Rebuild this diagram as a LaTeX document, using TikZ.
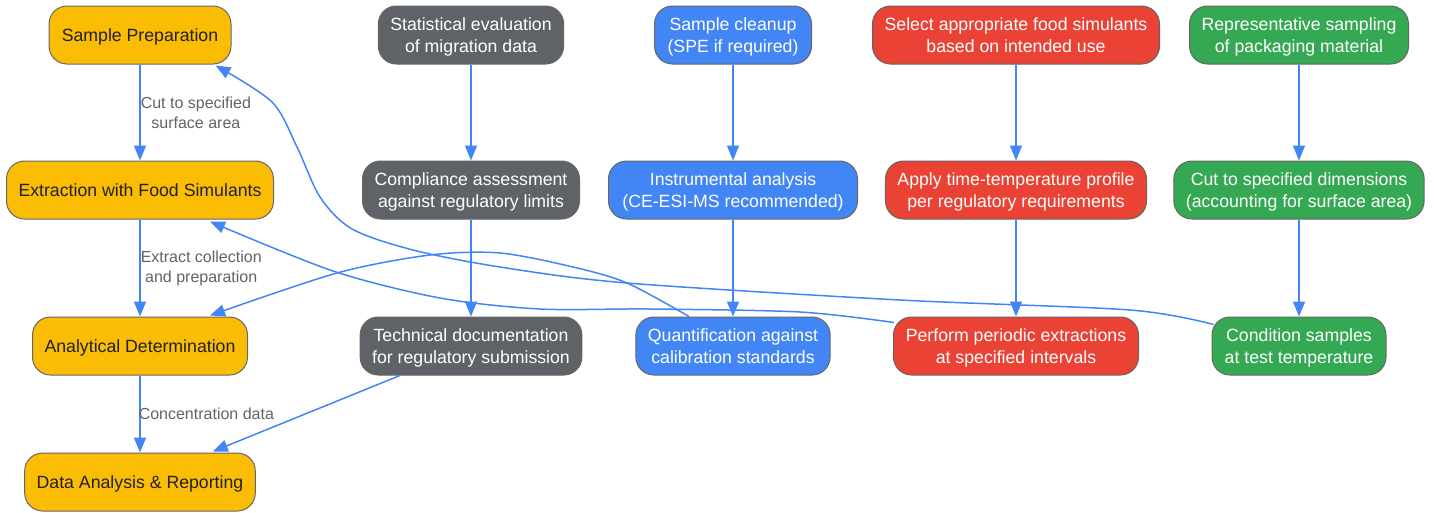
\documentclass[tikz,border=0pt]{standalone}
\usepackage{fontspec}
\setmainfont{Liberation Sans}
\usetikzlibrary{arrows.meta,calc}
\definecolor{cyel}{HTML}{FBBC04}
\definecolor{cgry}{HTML}{5F6368}
\definecolor{cblu}{HTML}{4285F4}
\definecolor{cred}{HTML}{EA4335}
\definecolor{cgrn}{HTML}{34A853}
\definecolor{edgec}{HTML}{4285F4}
\definecolor{bord}{HTML}{666666}
\definecolor{lblc}{HTML}{5F6368}
\definecolor{darktext}{HTML}{202124}
\newcommand\lnstrut{\rule[-4.9pt]{0pt}{22pt}}
\begin{document}
\begin{tikzpicture}[x=1pt,y=-1pt,
 box/.style={draw=bord, line width=1pt, rounded corners=18pt, minimum height=58pt, inner xsep=12pt, inner ysep=4pt, align=center, font=\fontsize{17.7}{22}\selectfont},
 nyel/.style={box, fill=cyel, text=darktext},
 ngry/.style={box, fill=cgry, text=white},
 nblu/.style={box, fill=cblu, text=white},
 nred/.style={box, fill=cred, text=white},
 ngrn/.style={box, fill=cgrn, text=white},
 conn/.style={draw=edgec, line width=1.5pt, -{Triangle[width=12pt,length=15pt]}},
 lbl/.style={text=lblc, font=\fontsize{16}{20}\selectfont, align=center, inner sep=0pt, anchor=west}
]
\useasboundingbox (0,0) rectangle (1434,512);

% column 1
\node[nyel, minimum width=182pt] (sp) at (140,35) {\lnstrut Sample Preparation};
\node[nyel, minimum width=267pt] (ext) at (140,190) {\lnstrut Extraction with Food Simulants};
\node[nyel, minimum width=215pt] (ana) at (140,346) {\lnstrut Analytical Determination};
\node[nyel, minimum width=230pt] (data) at (140,482) {\lnstrut Data Analysis \& Reporting};
% column 2
\node[ngry, minimum width=185pt] (stat) at (471,35) {\lnstrut Statistical evaluation\\\lnstrut of migration data};
\node[ngry, minimum width=217pt] (comp) at (471,190) {\lnstrut Compliance assessment\\\lnstrut against regulatory limits};
\node[ngry, minimum width=221pt] (tech) at (471,346) {\lnstrut Technical documentation\\\lnstrut for regulatory submission};
% column 3
\node[nblu, minimum width=157pt] (clean) at (733,35) {\lnstrut Sample cleanup\\\lnstrut (SPE if required)};
\node[nblu, minimum width=249pt] (instr) at (733,190) {\lnstrut Instrumental analysis\\\lnstrut (CE-ESI-MS recommended)};
\node[nblu, minimum width=193pt] (quant) at (733,346) {\lnstrut Quantification against\\\lnstrut calibration standards};
% column 4
\node[nred, minimum width=287pt] (sel) at (1016,35) {\lnstrut Select appropriate food simulants\\\lnstrut based on intended use};
\node[nred, minimum width=260pt] (apply) at (1016,190) {\lnstrut Apply time-temperature profile\\\lnstrut per regulatory requirements};
\node[nred, minimum width=245pt] (perf) at (1016,346) {\lnstrut Perform periodic extractions\\\lnstrut at specified intervals};
% column 5
\node[ngrn, minimum width=219pt] (repr) at (1299,35) {\lnstrut Representative sampling\\\lnstrut of packaging material};
\node[ngrn, minimum width=249pt] (cut) at (1299,190) {\lnstrut Cut to specified dimensions\\\lnstrut (accounting for surface area)};
\node[ngrn, minimum width=174pt] (cond) at (1299,346) {\lnstrut Condition samples\\\lnstrut at test temperature};

% vertical connectors
\draw[conn] (sp) -- node[lbl, midway]{Cut to specified\\surface area} (ext);
\draw[conn] (ext) -- node[lbl, midway]{Extract collection\\and preparation} (ana);
\draw[conn] (ana) -- node[lbl, midway, xshift=-2pt]{Concentration data} (data);
\draw[conn] (stat) -- (comp);
\draw[conn] (comp) -- (tech);
\draw[conn] (clean) -- (instr);
\draw[conn] (instr) -- (quant);
\draw[conn] (sel) -- (apply);
\draw[conn] (apply) -- (perf);
\draw[conn] (repr) -- (cut);
\draw[conn] (cut) -- (cond);

% end points of curved connectors
\coordinate (a0) at ($(cond.north west)+(2,8)$);
\coordinate (a1) at ($(sp.south east)+(-16,1)$);
\coordinate (c0) at ($(perf.north west)+(1,6)$);
\coordinate (c1) at ($(ext.south east)+(-64,2)$);
\coordinate (b0) at ($(quant.north)+(-44,0)$);
\coordinate (b1) at ($(ana.north east)+(-38,-1)$);
\coordinate (t0) at ($(tech.south)+(-71,0)$);
\coordinate (t1) at ($(data.north east)+(-43,-1)$);

% curved connectors
\draw[conn] plot[smooth, tension=0.5] coordinates {(a0) (1130,310) (900,300) (627,283) (500,267) (413,250) (352,229) (320,197) (297,147) (272,102) (a1)};
\draw[conn] plot[smooth, tension=0.5] coordinates {(c0) (800,312) (650,309) (540,309) (440,298) (333,271) (c1)};
\draw[conn] plot[smooth, tension=0.5] coordinates {(b0) (627,283) (573,267) (500,253) (430,255) (337,273) (b1)};
\draw[conn] (t0) -- (t1);
\end{tikzpicture}
\end{document}
